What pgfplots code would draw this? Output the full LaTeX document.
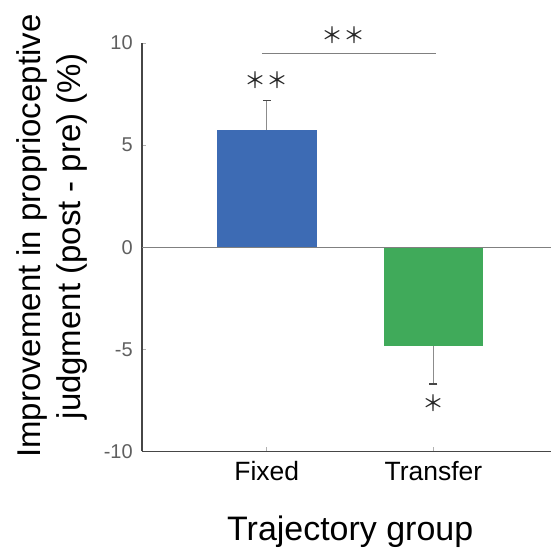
\documentclass[border=0pt]{standalone}
\usepackage{pgfplots}
\pgfplotsset{compat=1.18}
\usepackage{fontspec}
\setmainfont{Liberation Sans}
\newfontfamily\cjk{Noto Sans CJK JP}
\definecolor{barblue}{RGB}{61,107,180}
\definecolor{bargreen}{RGB}{64,170,90}
\definecolor{axgray}{RGB}{70,70,70}
\definecolor{tickgray}{RGB}{95,95,95}
\definecolor{errgray}{RGB}{140,140,140}
\begin{document}
\begin{tikzpicture}
\begin{axis}[
  scale only axis, width=410pt, height=409pt,
  xmin=-0.75, xmax=1.707, ymin=-10, ymax=10,
  axis lines*=left,
  axis line style={axgray, line width=1.5pt},
  xtick={0,1}, xticklabels={Fixed,Transfer},
  ytick={-10,-5,0,5,10}, yticklabels={-10,-5,0,5,10},
  tick align=inside, major tick length=4pt,
  tick style={gray!60, line width=0.8pt},
  xticklabel style={font=\fontsize{26.5}{30}\selectfont, inner sep=0pt, yshift=-10pt},
  yticklabel style={font=\fontsize{20}{24}\selectfont, text=tickgray, inner sep=0pt, xshift=-9pt},
  xlabel={Trajectory group},
  xlabel style={font=\fontsize{34}{40}\selectfont, at={(axis description cs:0.509,0)}, anchor=north, inner sep=0pt, yshift=-64pt},
  ylabel={Improvement in proprioceptive\\judgment (post - pre) (\%)},
  ylabel style={font=\fontsize{33}{40}\selectfont, align=center, at={(axis description cs:-0.132,0.527)}, anchor=south, rotate=0, inner sep=0pt},
  clip=false,
]
\addplot[ybar, bar width=100pt, fill=barblue, draw=none,
  error bars/.cd, y dir=plus, y explicit,
  error bar style={draw=errgray, line width=1pt},
  error mark options={rotate=90, draw=axgray, mark size=4pt, line width=1.2pt}]
  coordinates {(0,5.73) +- (0,1.47)};
\addplot[ybar, bar width=100pt, fill=bargreen, draw=none,
  error bars/.cd, y dir=minus, y explicit,
  error bar style={draw=errgray, line width=1pt},
  error mark options={rotate=90, draw=axgray, mark size=4pt, line width=1.2pt}]
  coordinates {(1,-4.85) +- (0,1.85)};
\addplot[gray, line width=1pt, mark=none] coordinates {(-0.75,0) (1.707,0)};
\addplot[gray, line width=1pt, mark=none] coordinates {(-0.03,9.46) (1.015,9.46)};
\node[font=\cjk\fontsize{22}{22}\selectfont, text=black!85] at (axis cs:0,8.19) {＊＊};
\node[font=\cjk\fontsize{22}{22}\selectfont, text=black!85] at (axis cs:0.46,10.4) {＊＊};
\node[font=\cjk\fontsize{22}{22}\selectfont, text=black!85] at (axis cs:1,-7.65) {＊};
\end{axis}
\path ([xshift=-142pt,yshift=-93pt]current axis.south west) rectangle ([yshift=43pt]current axis.north east);
\end{tikzpicture}
\end{document}
